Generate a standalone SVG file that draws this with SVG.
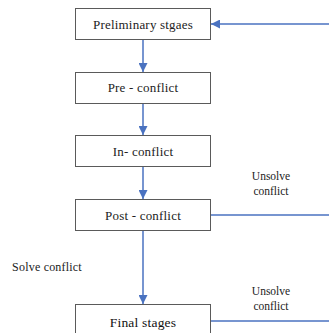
<svg xmlns="http://www.w3.org/2000/svg" width="329" height="333" viewBox="0 0 329 333">
  <style>
    .box { fill: #ffffff; stroke: #5a5a5a; stroke-width: 1; }
    .lbl { font-family: "Liberation Serif", "Times New Roman", serif; font-size: 13px; fill: #222222; text-anchor: middle; letter-spacing: 0.2px; }
    .note { font-family: "Liberation Serif", "Times New Roman", serif; font-size: 11.5px; fill: #222222; text-anchor: middle; }
    .wire { stroke: #4a72c0; stroke-width: 1.5; fill: none; }
  </style>
  <defs>
    <marker id="head" viewBox="0 0 10 10" refX="10" refY="5" markerWidth="9" markerHeight="9" orient="auto" markerUnits="userSpaceOnUse">
      <path d="M0,0 L10,5 L0,10 z" fill="#4a72c0"/>
    </marker>
  </defs>
  <rect width="329" height="333" fill="#ffffff"/>

  <!-- flow arrows, feedback lines and their labels -->
  <g id="connectors">
    <line class="wire" x1="143" y1="39" x2="143" y2="72" marker-end="url(#head)"/>
    <line class="wire" x1="143" y1="103" x2="143" y2="135" marker-end="url(#head)"/>
    <line class="wire" x1="143" y1="167" x2="143" y2="199" marker-end="url(#head)"/>
    <line class="wire" x1="143" y1="231" x2="143" y2="304" marker-end="url(#head)"/>
    <line class="wire" x1="329" y1="24" x2="211" y2="24" marker-end="url(#head)"/>
    <line class="wire" x1="211" y1="215" x2="329" y2="215"/>
    <line class="wire" x1="211" y1="321" x2="329" y2="321"/>
    <text class="note" x="271" y="180">Unsolve</text>
    <text class="note" x="271" y="195">conflict</text>
    <text class="note" x="271" y="295">Unsolve</text>
    <text class="note" x="271" y="310">conflict</text>
    <text class="note" x="47" y="271" style="font-size:12px;letter-spacing:0.2px">Solve conflict</text>
  </g>

  <g id="preliminary">
    <rect class="box" x="75.5" y="8.5" width="135" height="31"/>
    <text class="lbl" x="143" y="28.5">Preliminary stgaes</text>
  </g>
  <g id="pre-conflict">
    <rect class="box" x="75.5" y="72.5" width="135" height="31"/>
    <text class="lbl" x="143" y="92">Pre - conflict</text>
  </g>
  <g id="in-conflict">
    <rect class="box" x="75.5" y="135.5" width="135" height="31"/>
    <text class="lbl" x="143" y="155.5">In- conflict</text>
  </g>
  <g id="post-conflict">
    <rect class="box" x="75.5" y="199.5" width="135" height="31"/>
    <text class="lbl" x="143" y="219.5">Post - conflict</text>
  </g>
  <g id="final">
    <rect class="box" x="75.5" y="304.5" width="135" height="40"/>
    <text class="lbl" x="143" y="326.5" style="font-size:13.5px;fill:#111111">Final stages</text>
  </g>
</svg>
